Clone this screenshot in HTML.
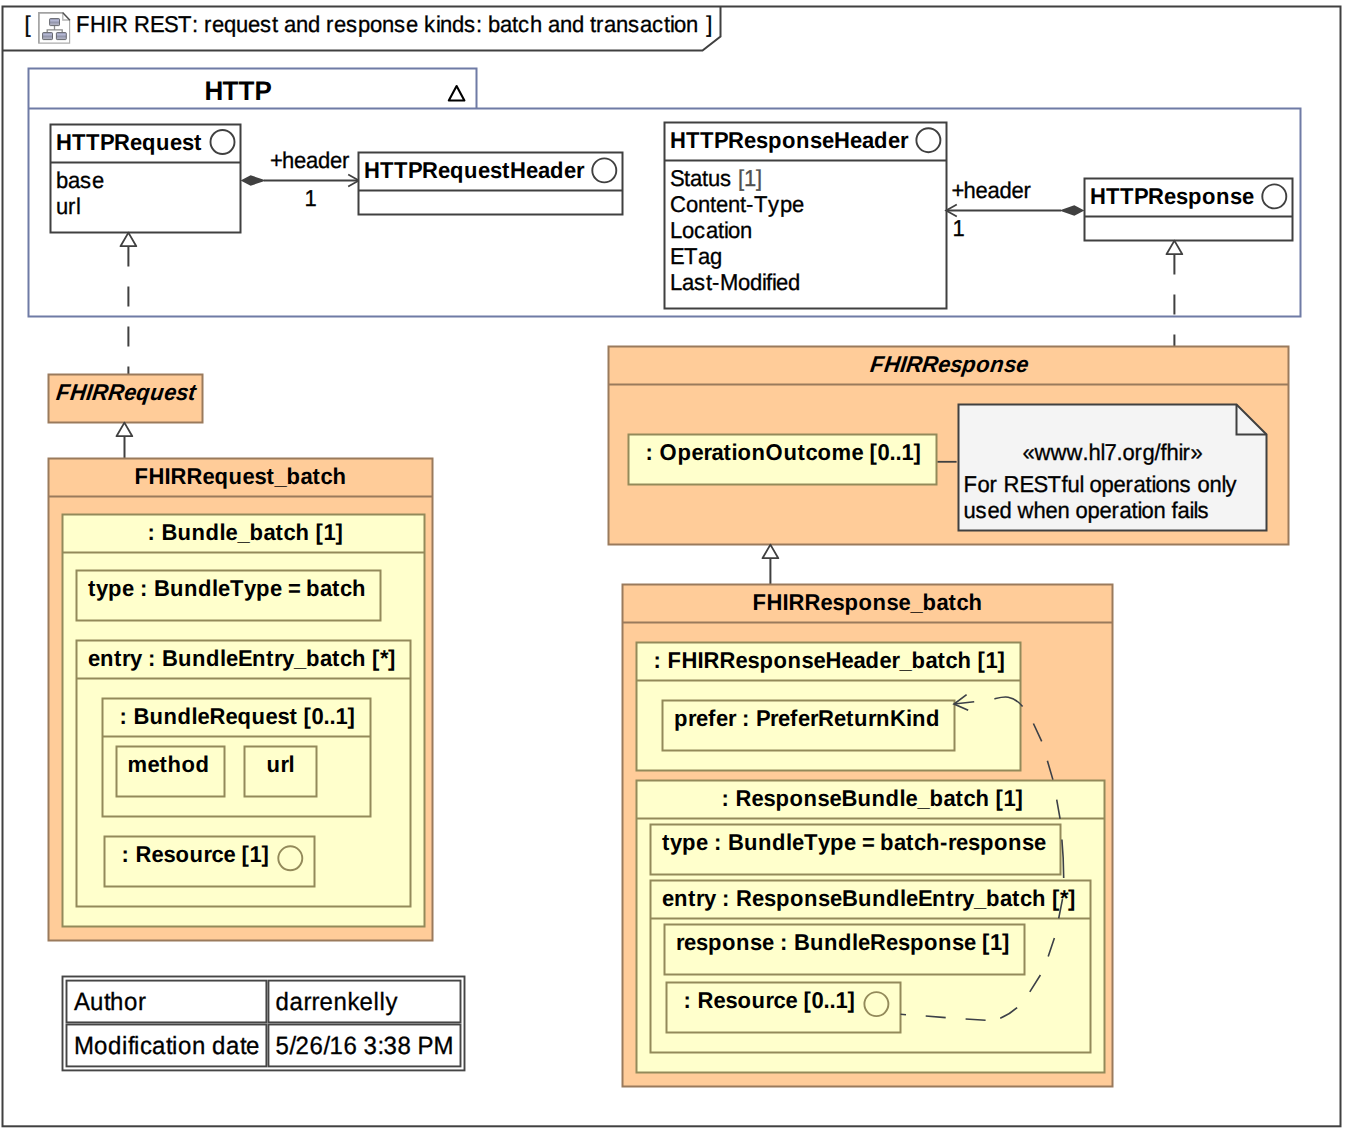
<!DOCTYPE html>
<html lang="en">
<head>
<meta charset="utf-8">
<title>FHIR REST: request and response kinds: batch and transaction</title>
<style>
html,body{margin:0;padding:0;background:#fff;}
body{width:1352px;height:1132px;overflow:hidden;}
svg{display:block;}
text{font-family:"Liberation Sans",Arial,Helvetica,sans-serif;font-size:22px;fill:#000;text-rendering:geometricPrecision;}
.b{font-weight:bold;}
.bi{font-weight:bold;font-style:italic;}
.r{font-weight:normal;stroke:#000;stroke-width:0.3px;}
.h{font-weight:bold;font-size:26px;}
.t{font-weight:normal;font-size:24px;stroke:#000;stroke-width:0.3px;}
</style>
</head>
<body>
<svg width="1352" height="1132" viewBox="0 0 1352 1132">
<rect x="0" y="0" width="1352" height="1132" fill="#fff"/>
<!-- diagram frame -->
<rect x="2.5" y="6.5" width="1338" height="1119.8" fill="none" stroke="#404040" stroke-width="2"/>
<path d="M2.5 50.5 H702.5 L720.5 36.5 V6.5" fill="none" stroke="#404040" stroke-width="2"/>
<text x="24.5" y="31.8" class="r" transform="matrix(1 0 0 1.04 0 -1.27)">[</text>
<text x="76 90 106 112 128 134 150 164 178 192 198 204 212 224 236 248 260 272 278 284 296 308 320 326 334 346 358 370 382 394 406 418 424 436 440 452 464 476 482 488 500 512 518 530 542 548 560 572 584 590 596 604 616 628 640 652 664 670 674 686 698 706.2" y="31.8" class="r" transform="matrix(1 0 0 1.04 0 -1.27)">FHIR REST: request and response kinds: batch and transaction ]</text>
<g id="icon">
<defs><linearGradient id="ig" x1="0" y1="0" x2="0" y2="1"><stop offset="0" stop-color="#9a9db8"/><stop offset="0.3" stop-color="#b7bad6"/><stop offset="0.52" stop-color="#9093aa"/><stop offset="0.6" stop-color="#9c9eb3"/><stop offset="1" stop-color="#b9bac8"/></linearGradient></defs>
<path d="M38.9 43.2 V12.9 H62.8" fill="none" stroke="#a2a2a2" stroke-width="1.7"/>
<path d="M38.2 43.2 H69.6 V19.6" fill="none" stroke="#adadad" stroke-width="1.2"/>
<path d="M62.8 13.4 V20 H69.4" fill="none" stroke="#b4b4b4" stroke-width="1.3"/>
<path d="M62.6 12.5 L69.9 20.2" fill="none" stroke="#505050" stroke-width="1.5"/>
<path d="M54.5 25.8 V29.8 M47.2 32 V29.8 H62.2 V32" fill="none" stroke="#8c8c8c" stroke-width="1.3"/>
<rect x="49.6" y="18.6" width="9.9" height="7" rx="0.8" fill="url(#ig)" stroke="#5a5b62" stroke-width="0.9"/>
<rect x="42.6" y="32.6" width="9.9" height="7" rx="0.8" fill="url(#ig)" stroke="#5a5b62" stroke-width="0.9"/>
<rect x="56.4" y="32.6" width="9.9" height="7" rx="0.8" fill="url(#ig)" stroke="#5a5b62" stroke-width="0.9"/>
</g>
<!-- package HTTP -->
<path d="M28.5 108.5 V68.5 H476.5 V108.5 H1300.5 V316.5 H28.5 V108.5 H476.5" fill="#fff" stroke="#6F7BA5" stroke-width="2"/>
<text x="204.5 222.5 238.5 254.5" y="99.6" class="h" transform="matrix(1 0 0 1.04 0 -3.98)">HTTP</text>
<path d="M456.6 86 L464.4 100.5 H448.8 Z" fill="#fff" stroke="#000" stroke-width="2.1" stroke-linejoin="round"/>
<rect x="50.5" y="124.5" width="190" height="108" fill="#fff" stroke="#404040" stroke-width="2"/>
<line x1="50.5" y1="162.5" x2="240.5" y2="162.5" stroke="#404040" stroke-width="2"/>
<text x="56 72 86 100 114 130 142 156 170 182 194" y="150" class="b" transform="matrix(1 0 0 1.04 0 -6)">HTTPRequest</text>
<circle cx="222.5" cy="142" r="12" fill="#fff" stroke="#404040" stroke-width="1.9"/>
<text x="56 68 80 92" y="188" class="r" transform="matrix(1 0 0 1.04 0 -7.52)">base</text>
<text x="56 68 76" y="214" class="r" transform="matrix(1 0 0 1.04 0 -8.56)">url</text>
<line x1="264" y1="180.5" x2="358" y2="180.5" stroke="#404040" stroke-width="1.8"/>
<path d="M240.6 180.5 L250.6 175.3 L266.2 180.5 L250.6 185.7 Z" fill="#404040"/>
<path d="M348.2 174.4 L358.9 180.5 L348.2 186.6" fill="none" stroke="#404040" stroke-width="1.7"/>
<text x="270 282 294 306 318 330 342" y="168" class="r" transform="matrix(1 0 0 1.04 0 -6.72)">+header</text>
<text x="304.5" y="206" class="r" transform="matrix(1 0 0 1.04 0 -8.24)">1</text>
<rect x="358.5" y="152.5" width="264" height="62" fill="#fff" stroke="#404040" stroke-width="2"/>
<line x1="358.5" y1="190.5" x2="622.5" y2="190.5" stroke="#404040" stroke-width="2"/>
<text x="364 380 394 408 422 438 450 464 478 490 502 510 526 538 550 564 576" y="178" class="b" transform="matrix(1 0 0 1.04 0 -7.12)">HTTPRequestHeader</text>
<circle cx="604.3" cy="170.4" r="12" fill="#fff" stroke="#404040" stroke-width="1.9"/>
<rect x="664.5" y="122.5" width="282" height="186" fill="#fff" stroke="#404040" stroke-width="2"/>
<line x1="664.5" y1="160.5" x2="946.5" y2="160.5" stroke="#404040" stroke-width="2"/>
<text x="670 686 700 714 728 744 756 768 782 796 810 822 834 850 862 874 888 900" y="148" class="b" transform="matrix(1 0 0 1.04 0 -5.92)">HTTPResponseHeader</text>
<circle cx="928.4" cy="140.2" r="12" fill="#fff" stroke="#404040" stroke-width="1.9"/>
<text x="670 684 690 702 708 720 732 738 744 756" y="186" class="r" transform="matrix(1 0 0 1.04 0 -7.44)">Status <tspan fill="#505050" stroke="#505050">[1]</tspan></text>
<text x="670 686 698 710 716 728 740 746 754 768 780 792" y="212" class="r" transform="matrix(1 0 0 1.04 0 -8.48)">Content-Type</text>
<text x="670 682 694 706 718 724 728 740" y="238" class="r" transform="matrix(1 0 0 1.04 0 -9.52)">Location</text>
<text x="670 684 698 710" y="264" class="r" transform="matrix(1 0 0 1.04 0 -10.56)">ETag</text>
<text x="670 682 694 706 712 720 738 750 762 766 772 776 788" y="290" class="r" transform="matrix(1 0 0 1.04 0 -11.6)">Last-Modified</text>
<line x1="946.5" y1="210.5" x2="1061" y2="210.5" stroke="#404040" stroke-width="1.8"/>
<path d="M1084.4 210.5 L1074.3 205.3 L1059.3 210.5 L1074.3 215.7 Z" fill="#404040"/>
<path d="M956.8 204.5 L946.1 210.5 L956.8 216.5" fill="none" stroke="#404040" stroke-width="1.7"/>
<text x="951.5 963.5 975.5 987.5 999.5 1011.5 1023.5" y="198" class="r" transform="matrix(1 0 0 1.04 0 -7.92)">+header</text>
<text x="952.5" y="236" class="r" transform="matrix(1 0 0 1.04 0 -9.44)">1</text>
<rect x="1084.5" y="178.5" width="208" height="62" fill="#fff" stroke="#404040" stroke-width="2"/>
<line x1="1084.5" y1="216.5" x2="1292.5" y2="216.5" stroke="#404040" stroke-width="2"/>
<text x="1090 1106 1120 1134 1148 1164 1176 1188 1202 1216 1230 1242" y="204" class="b" transform="matrix(1 0 0 1.04 0 -8.16)">HTTPResponse</text>
<circle cx="1274.3" cy="196.4" r="12" fill="#fff" stroke="#404040" stroke-width="1.9"/>
<path d="M128.4 232.6 L136.3 246.2 H120.5 Z" fill="#fff" stroke="#404040" stroke-width="1.8" stroke-linejoin="round"/>
<line x1="128.4" y1="246.4" x2="128.4" y2="374" stroke="#404040" stroke-width="2" stroke-dasharray="20 20"/>
<path d="M1174.4 240.6 L1182.3 254.2 H1166.5 Z" fill="#fff" stroke="#404040" stroke-width="1.8" stroke-linejoin="round"/>
<line x1="1174.4" y1="254.4" x2="1174.4" y2="346" stroke="#404040" stroke-width="2" stroke-dasharray="20 20"/>
<!-- FHIRRequest -->
<rect x="48.5" y="374.5" width="154" height="48" fill="#FFCC99" stroke="#9A7A5C" stroke-width="2"/>
<text x="55.5 69.5 85.5 91.5 107.5 123.5 135.5 149.5 163.5 175.5 187.5" y="400" class="bi" transform="matrix(1 0 -0.13 1.04 52 -16)">FHIRRequest</text>
<path d="M124.4 422.6 L132.3 436.2 H116.5 Z" fill="#fff" stroke="#404040" stroke-width="1.8" stroke-linejoin="round"/>
<line x1="124.5" y1="436" x2="124.5" y2="458" stroke="#404040" stroke-width="2"/>
<!-- FHIRRequest_batch -->
<rect x="48.5" y="458.5" width="384" height="482" fill="#FFCC99" stroke="#9A7A5C" stroke-width="2"/>
<line x1="48.5" y1="496.5" x2="432.5" y2="496.5" stroke="#9A7A5C" stroke-width="2"/>
<text x="134.5 148.5 164.5 170.5 186.5 202.5 214.5 228.5 242.5 254.5 266.5 274.5 286.5 300.5 312.5 320.5 332.5" y="484" class="b" transform="matrix(1 0 0 1.04 0 -19.36)">FHIRRequest_batch</text>
<rect x="62.5" y="514.5" width="362" height="412" fill="#FFFFCC" stroke="#938A5A" stroke-width="2"/>
<line x1="62.5" y1="552.5" x2="424.5" y2="552.5" stroke="#938A5A" stroke-width="2"/>
<text x="147.5 155.5 161.5 177.5 191.5 205.5 219.5 225.5 237.5 249.5 263.5 275.5 283.5 295.5 309.5 315.5 323.5 335.5" y="540" class="b" transform="matrix(1 0 0 1.04 0 -21.6)">: Bundle_batch [1]</text>
<rect x="76.5" y="570.5" width="304" height="50" fill="#FFFFCC" stroke="#938A5A" stroke-width="2"/>
<text x="88 96 108 122 134 140 148 154 170 184 198 212 218 230 244 256 270 282 288 300 306 320 332 340 352" y="596" class="b" transform="matrix(1 0 0 1.04 0 -23.84)">type : BundleType = batch</text>
<rect x="76.5" y="640.5" width="334" height="266" fill="#FFFFCC" stroke="#938A5A" stroke-width="2"/>
<line x1="76.5" y1="678.5" x2="410.5" y2="678.5" stroke="#938A5A" stroke-width="2"/>
<text x="88 100 114 122 130 142 148 156 162 178 192 206 220 226 238 252 266 274 282 294 306 320 332 340 352 366 372 380 388" y="666" class="b" transform="matrix(1 0 0 1.04 0 -26.64)">entry : BundleEntry_batch [*]</text>
<rect x="102.5" y="698.5" width="268" height="118" fill="#FFFFCC" stroke="#938A5A" stroke-width="2"/>
<line x1="102.5" y1="736.5" x2="370.5" y2="736.5" stroke="#938A5A" stroke-width="2"/>
<text x="119.5 127.5 133.5 149.5 163.5 177.5 191.5 197.5 209.5 225.5 237.5 251.5 265.5 277.5 289.5 297.5 303.5 311.5 323.5 329.5 335.5 347.5" y="724" class="b" transform="matrix(1 0 0 1.04 0 -28.96)">: BundleRequest [0..1]</text>
<rect x="116.5" y="746.5" width="108" height="50" fill="#FFFFCC" stroke="#938A5A" stroke-width="2"/>
<text x="127.5 147.5 159.5 167.5 181.5 195.5" y="772" class="b" transform="matrix(1 0 0 1.04 0 -30.88)">method</text>
<rect x="244.5" y="746.5" width="72" height="50" fill="#FFFFCC" stroke="#938A5A" stroke-width="2"/>
<text x="266.5 280.5 288.5" y="772" class="b" transform="matrix(1 0 0 1.04 0 -30.88)">url</text>
<rect x="104.5" y="836.5" width="210" height="50" fill="#FFFFCC" stroke="#938A5A" stroke-width="2"/>
<text x="121.5 129.5 135.5 151.5 163.5 175.5 189.5 203.5 211.5 223.5 235.5 241.5 249.5 261.5" y="862" class="b" transform="matrix(1 0 0 1.04 0 -34.48)">: Resource [1]</text>
<circle cx="290.3" cy="858.3" r="12" fill="#FFFFCC" stroke="#938A5A" stroke-width="1.9"/>
<!-- info table -->
<rect x="62.5" y="976.5" width="402" height="93.9" fill="#fff" stroke="#454545" stroke-width="1.9"/>
<rect x="66.5" y="980.6" width="199.9" height="41.8" fill="#fff" stroke="#454545" stroke-width="1.9"/>
<rect x="268.45" y="980.6" width="192.05" height="41.8" fill="#fff" stroke="#454545" stroke-width="1.9"/>
<rect x="66.5" y="1024.5" width="199.9" height="41.9" fill="#fff" stroke="#454545" stroke-width="1.9"/>
<rect x="268.45" y="1024.5" width="192.05" height="41.9" fill="#fff" stroke="#454545" stroke-width="1.9"/>
<text x="74 90 104 110 124 138" y="1010" class="t" transform="matrix(1 0 0 1.04 0 -40.4)">Author</text>
<text x="275.5 289.5 303.5 311.5 319.5 333.5 347.5 359.5 373.5 379.5 385.5" y="1010" class="t" transform="matrix(1 0 0 1.04 0 -40.4)">darrenkelly</text>
<text x="74 94 108 122 128 134 140 152 166 172 178 192 206 212 226 240 246" y="1054" class="t" transform="matrix(1 0 0 1.04 0 -42.16)">Modification date</text>
<text x="275.5 289.5 295.5 309.5 323.5 329.5 343.5 357.5 363.5 377.5 383.5 397.5 411.5 417.5 433.5" y="1054" class="t" transform="matrix(1 0 0 1.04 0 -42.16)">5/26/16 3:38 PM</text>
<!-- FHIRResponse -->
<rect x="608.5" y="346.5" width="680" height="198" fill="#FFCC99" stroke="#9A7A5C" stroke-width="2"/>
<line x1="608.5" y1="384.5" x2="1288.5" y2="384.5" stroke="#9A7A5C" stroke-width="2"/>
<text x="869.5 883.5 899.5 905.5 921.5 937.5 949.5 961.5 975.5 989.5 1003.5 1015.5" y="372" class="bi" transform="matrix(1 0 -0.13 1.04 48.36 -14.88)">FHIRResponse</text>
<rect x="628.5" y="434.5" width="308" height="50" fill="#FFFFCC" stroke="#938A5A" stroke-width="2"/>
<text x="645.5 653.5 659.5 677.5 691.5 703.5 711.5 723.5 731.5 737.5 751.5 765.5 783.5 797.5 805.5 817.5 831.5 851.5 863.5 869.5 877.5 889.5 895.5 901.5 913.5" y="460" class="b" transform="matrix(1 0 0 1.04 0 -18.4)">: OperationOutcome [0..1]</text>
<line x1="937.5" y1="461.8" x2="956.6" y2="461.8" stroke="#404040" stroke-width="1.8"/>
<path d="M958.5 404.5 H1236.5 L1266.5 434.5 V530.5 H958.5 Z" fill="#f4f4f4" stroke="#404040" stroke-width="2"/>
<path d="M1236.5 404.5 V434.5 H1266.5" fill="none" stroke="#404040" stroke-width="2"/>
<text x="1022.5 1034.5 1050.5 1066.5 1082.5 1088.5 1100.5 1104.5 1116.5 1122.5 1134.5 1142.5 1154.5 1160.5 1166.5 1178.5 1182.5 1190.5" y="460.3" class="r" transform="matrix(1 0 0 1.04 0 -18.41)">«www.hl7.org/fhir»</text>
<text x="963.5 977.5 989.5 997.5 1003.5 1019.5 1033.5 1047.5 1061.5 1067.5 1079.5 1083.5 1089.5 1101.5 1113.5 1125.5 1133.5 1145.5 1151.5 1155.5 1167.5 1179.5 1191.5 1197.5 1209.5 1221.5 1225.5" y="492" class="r" transform="matrix(1 0 0 1.04 0 -19.68)">For RESTful operations only</text>
<text x="963.5 975.5 987.5 999.5 1011.5 1017.5 1033.5 1045.5 1057.5 1069.5 1075.5 1087.5 1099.5 1111.5 1119.5 1131.5 1137.5 1141.5 1153.5 1165.5 1171.5 1177.5 1189.5 1193.5 1197.5" y="518" class="r" transform="matrix(1 0 0 1.04 0 -20.72)">used when operation fails</text>
<path d="M770.4 544.6 L778.3 558.2 H762.5 Z" fill="#fff" stroke="#404040" stroke-width="1.8" stroke-linejoin="round"/>
<line x1="770.4" y1="558" x2="770.4" y2="584" stroke="#404040" stroke-width="2"/>
<!-- FHIRResponse_batch -->
<rect x="622.5" y="584.5" width="490" height="502" fill="#FFCC99" stroke="#9A7A5C" stroke-width="2"/>
<line x1="622.5" y1="622.5" x2="1112.5" y2="622.5" stroke="#9A7A5C" stroke-width="2"/>
<text x="752.5 766.5 782.5 788.5 804.5 820.5 832.5 844.5 858.5 872.5 886.5 898.5 910.5 922.5 936.5 948.5 956.5 968.5" y="610" class="b" transform="matrix(1 0 0 1.04 0 -24.4)">FHIRResponse_batch</text>
<rect x="636.5" y="642.5" width="384" height="128" fill="#FFFFCC" stroke="#938A5A" stroke-width="2"/>
<line x1="636.5" y1="680.5" x2="1020.5" y2="680.5" stroke="#938A5A" stroke-width="2"/>
<text x="653.5 661.5 667.5 681.5 697.5 703.5 719.5 735.5 747.5 759.5 773.5 787.5 801.5 813.5 825.5 841.5 853.5 865.5 879.5 891.5 899.5 911.5 925.5 937.5 945.5 957.5 971.5 977.5 985.5 997.5" y="668" class="b" transform="matrix(1 0 0 1.04 0 -26.72)">: FHIRResponseHeader_batch [1]</text>
<rect x="662.5" y="700.5" width="292" height="50" fill="#FFFFCC" stroke="#938A5A" stroke-width="2"/>
<text x="674 688 696 708 716 728 736 742 750 756 770 778 790 798 810 818 834 846 854 868 876 890 906 912 926" y="726" class="b" transform="matrix(1 0 0 1.04 0 -29.04)">prefer : PreferReturnKind</text>
<rect x="636.5" y="780.5" width="468" height="292" fill="#FFFFCC" stroke="#938A5A" stroke-width="2"/>
<line x1="636.5" y1="818.5" x2="1104.5" y2="818.5" stroke="#938A5A" stroke-width="2"/>
<text x="721.5 729.5 735.5 751.5 763.5 775.5 789.5 803.5 817.5 829.5 841.5 857.5 871.5 885.5 899.5 905.5 917.5 929.5 943.5 955.5 963.5 975.5 989.5 995.5 1003.5 1015.5" y="806" class="b" transform="matrix(1 0 0 1.04 0 -32.24)">: ResponseBundle_batch [1]</text>
<rect x="650.5" y="824.5" width="410" height="50" fill="#FFFFCC" stroke="#938A5A" stroke-width="2"/>
<text x="662 670 682 696 708 714 722 728 744 758 772 786 792 804 818 830 844 856 862 874 880 894 906 914 926 940 948 956 968 980 994 1008 1022 1034" y="850" class="b" transform="matrix(1 0 0 1.04 0 -34)">type : BundleType = batch-response</text>
<rect x="650.5" y="880.5" width="440" height="172" fill="#FFFFCC" stroke="#938A5A" stroke-width="2"/>
<line x1="650.5" y1="918.5" x2="1090.5" y2="918.5" stroke="#938A5A" stroke-width="2"/>
<text x="662 674 688 696 704 716 722 730 736 752 764 776 790 804 818 830 842 858 872 886 900 906 918 932 946 954 962 974 986 1000 1012 1020 1032 1046 1052 1060 1068" y="906" class="b" transform="matrix(1 0 0 1.04 0 -36.24)">entry : ResponseBundleEntry_batch [*]</text>
<rect x="664.5" y="924.5" width="360" height="50" fill="#FFFFCC" stroke="#938A5A" stroke-width="2"/>
<text x="676 684 696 708 722 736 750 762 774 780 788 794 810 824 838 852 858 870 886 898 910 924 938 952 964 976 982 990 1002" y="950" class="b" transform="matrix(1 0 0 1.04 0 -38)">response : BundleResponse [1]</text>
<rect x="666.5" y="982.5" width="234" height="50" fill="#FFFFCC" stroke="#938A5A" stroke-width="2"/>
<text x="683.5 691.5 697.5 713.5 725.5 737.5 751.5 765.5 773.5 785.5 797.5 803.5 811.5 823.5 829.5 835.5 847.5" y="1008" class="b" transform="matrix(1 0 0 1.04 0 -40.32)">: Resource [0..1]</text>
<circle cx="876.4" cy="1004.1" r="12" fill="#FFFFCC" stroke="#938A5A" stroke-width="1.9"/>
<path fill="none" stroke="#3c4047" stroke-width="1.6" d="M900.6 1014.3 L906 1014.8 M925.7 1016 L945.7 1017.6 M965.6 1019 L985.6 1020.3 M1000.2 1018.3 Q1009.5 1014.3 1017.1 1007.6 M1029.8 991.9 L1040.4 975 M1048.2 956.4 L1054.4 938.1 M1058.7 918.3 L1062.5 899.1 M1063.7 877.9 Q1063.6 858 1061.9 839.5 M1060.1 818.9 L1056.7 799.7 M1052.9 779.6 L1047.4 760.8 M1041.7 741.3 L1033.4 723.5 M1022.6 706.6 C1012 693.5 1002 697 994.4 698.9 M974.2 701.8 L954 704"/>
<path d="M966.6 694.6 L954 704 L968.2 710.3" fill="none" stroke="#3c4047" stroke-width="1.7" stroke-linejoin="miter"/>
</svg>
</body>
</html>
